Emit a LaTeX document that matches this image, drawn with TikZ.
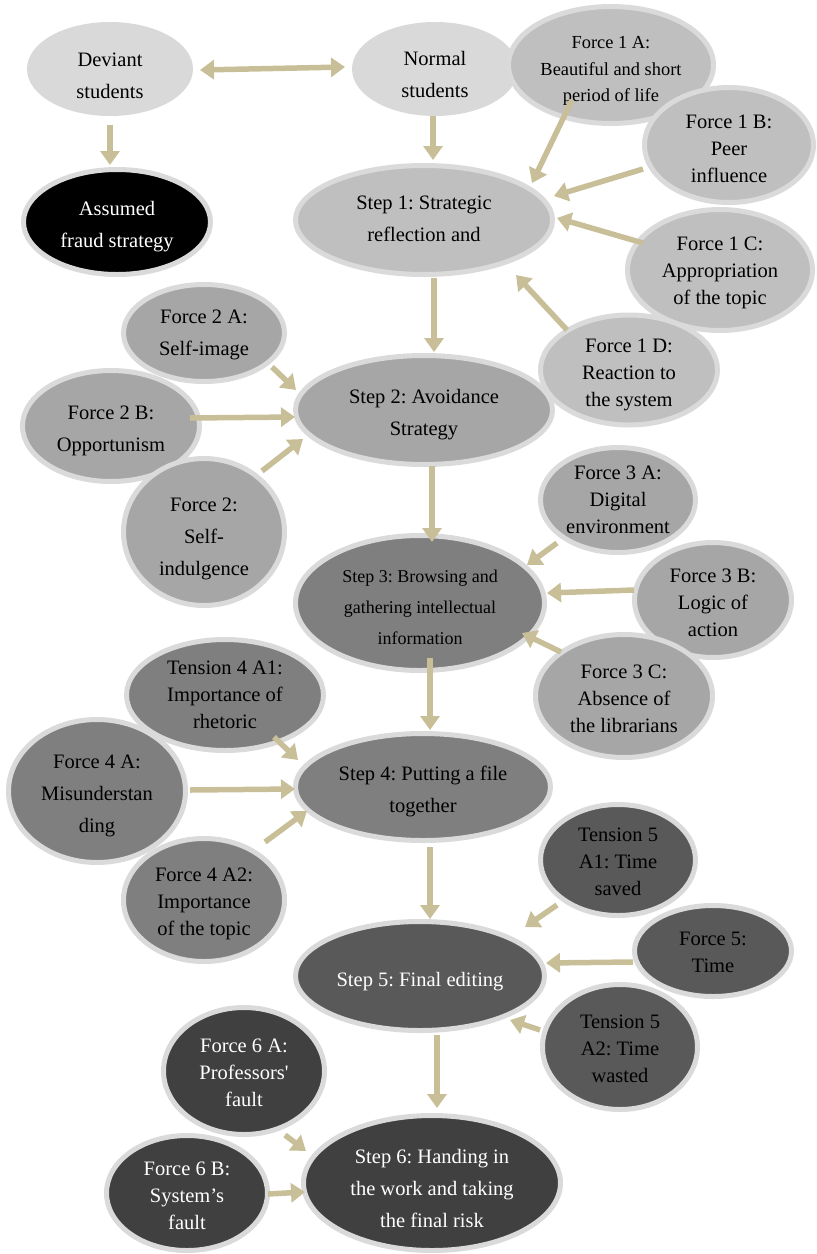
\documentclass[tikz,border=0pt]{standalone}
\usepackage{fontspec}
\setmainfont{Liberation Serif}[Ligatures=TeXOff]
\frenchspacing
\usetikzlibrary{arrows.meta,calc,shapes.geometric}
\definecolor{arrc}{HTML}{C8BF98}
\definecolor{ringc}{HTML}{DADADA}
\definecolor{cA}{HTML}{D9D9D9}
\definecolor{cB}{HTML}{BFBFBF}
\definecolor{cC}{HTML}{A6A6A6}
\definecolor{cD}{HTML}{7F7F7F}
\definecolor{cE}{HTML}{595959}
\definecolor{cF}{HTML}{404040}
\begin{document}
\begin{tikzpicture}[x=1pt,y=-1pt,
  el/.style={ellipse, draw=ringc, line width=5pt, inner sep=0pt},
  lab/.style={align=center, inner sep=0pt, font=\fontsize{20.5}{32}\selectfont},
  tight/.style={font=\fontsize{20.5}{27}\selectfont},
  wt/.style={text=white},
  sz/.style 2 args={minimum width=#1, minimum height=#2},
  T/.style n args={3}{label={[lab,#1,yshift=-#2pt]center:{#3}}},
  arr/.style={draw=arrc, line width=5.5pt, -{Triangle[length=14pt,width=19pt]}},
  darr/.style={draw=arrc, line width=5.5pt, {Triangle[length=14pt,width=19pt]}-{Triangle[length=14pt,width=19pt]}},
]
\useasboundingbox (0,0) rectangle (817,1254);

% top
\node[el, fill=cA, draw=cA, sz={161}{89}, T={}{7}{Deviant\\students}] (dev) at (110,69) {};
\node[el, fill=black, sz={187}{105}, T={wt}{5}{Assumed\\fraud strategy}] (ass) at (117,222) {};
\node[el, fill=cA, draw=cA, sz={161}{89}, T={}{5}{Normal\\students}] (norm) at (435,69) {};

% step 1 group
\node[el, fill=cB, sz={257}{109}, T={}{-1}{Step 1: Strategic\\reflection and}] (s1) at (424,220) {};
\node[el, fill=cB, sz={205}{117}, T={font=\fontsize{18.4}{26.5}\selectfont}{6}{Force 1 A:\\Beautiful and short\\period of life}] (f1a) at (611,65) {};
\node[el, fill=cB, sz={169}{115}, T={tight}{4}{Force 1 B:\\Peer\\influence}] (f1b) at (729,145) {};
\node[el, fill=cB, sz={185}{121}, T={tight}{3}{Force 1 C:\\Appropriation\\of the topic}] (f1c) at (720,270) {};

% step 2 group
\node[el, fill=cC, sz={257}{109}, T={}{5}{Step 2: Avoidance\\Strategy}] (s2) at (424,410) {};
\node[el, fill=cB, sz={177}{110}, T={tight}{5}{Force 1 D:\\Reaction to\\the system}] (f1d) at (629,370) {};
\node[el, fill=cC, sz={161}{97}, T={}{2}{Force 2 A:\\Self-image}] (f2a) at (204,333) {};
\node[el, fill=cC, sz={177}{111}, T={}{5}{Force 2 B:\\Opportunism}] (f2b) at (111,426) {};
\node[el, fill=cC, sz={161}{147}, T={}{7}{Force 2:\\Self-\\indulgence}] (f2c) at (204,532) {};

% step 3 group
\node[el, fill=cD, sz={249}{135}, T={font=\fontsize{18}{31}\selectfont}{4}{Step 3: Browsing and\\gathering intellectual\\information}] (s3) at (420,603) {};
\node[el, fill=cC, sz={155}{105}, T={tight}{0}{Force 3 A:\\Digital\\environment}] (f3a) at (618,500) {};
\node[el, fill=cC, sz={157}{115}, T={tight}{3}{Force 3 B:\\Logic of\\action}] (f3b) at (713,600) {};
\node[el, fill=cC, sz={177}{123}, T={tight}{3}{Force 3 C:\\Absence of\\the librarians}] (f3c) at (624,696) {};

% step 4 group
\node[el, fill=cD, sz={255}{107}, T={}{4}{Step 4: Putting a file\\together}] (s4) at (423,787) {};
\node[el, fill=cD, sz={197}{111}, T={tight}{0}{Tension 4 A1:\\Importance of\\rhetoric}] (t4a1) at (225,695) {};
\node[el, fill=cD, sz={177}{143}, T={}{5}{Force 4 A:\\Misunderstan\\ding}] (f4a) at (97,791) {};
\node[el, fill=cD, sz={161}{123}, T={tight}{4}{Force 4 A2:\\Importance\\of the topic}] (f4a2) at (204,900) {};

% step 5 group
\node[el, fill=cE, sz={249}{109}, T={wt}{6}{Step 5: Final editing}] (s5) at (420,976) {};
\node[el, fill=cE, sz={155}{111}, T={tight}{2}{Tension 5\\A1: Time\\saved}] (t5a1) at (618,860) {};
\node[el, fill=cE, sz={157}{91}, T={tight}{1}{Force 5:\\Time}] (f5) at (713,951) {};
\node[el, fill=cE, sz={155}{125}, T={tight}{2}{Tension 5\\A2: Time\\wasted}] (t5a2) at (620,1047) {};

% step 6 group
\node[el, fill=cF, sz={257}{135}, T={wt}{5}{Step 6: Handing in\\the work and taking\\the final risk}] (s6) at (432,1183) {};
\node[el, fill=cF, sz={161}{127}, T={wt,tight}{2}{Force 6 A:\\Professors'\\fault}] (f6a) at (244,1071) {};
\node[el, fill=cF, sz={161}{115}, T={wt,tight}{3}{Force 6 B:\\System’s\\fault}] (f6b) at (187,1193) {};

% connectors
\draw[darr] ($(dev)+(90,1)$) -- ($(norm)+(-90,-2)$);
\draw[arr] ($(dev)+(0,56)$) -- ($(ass)+(-7,-57)$);
\draw[arr] ($(norm)+(-2,47)$) -- ($(s1)+(9,-60)$);
\draw[arr] ($(f1a)+(-39,35)$) -- ($(s1)+(108,-37)$);
\draw[arr] ($(f1b)+(-86,24)$) -- ($(s1)+(130,-24)$);
\draw[arr] ($(f1c)+(-77,-27)$) -- ($(s1)+(133,-2)$);
\draw[arr] ($(f1d)+(-62,-40)$) -- ($(s1)+(92,55)$);
\draw[arr] ($(s1)+(10,58)$) -- ($(s2)+(10,-58)$);
\draw[arr] ($(f2a)+(68,34)$) -- ($(s2)+(-128,-20)$);
\draw[arr] ($(f2b)+(79,-8)$) -- ($(s2)+(-129,7)$);
\draw[arr] ($(f2c)+(58,-61)$) -- ($(s2)+(-121,29)$);
\draw[arr] ($(s2)+(8,56)$) -- ($(s3)+(12,-61)$);
\draw[arr] ($(f3a)+(-61,43)$) -- ($(s3)+(107,-38)$);
\draw[arr] ($(f3b)+(-79,-10)$) -- ($(s3)+(127,-10)$);
\draw[arr] ($(f3c)+(-63,-44)$) -- ($(s3)+(102,30)$);
\draw[arr] ($(s3)+(10,55)$) -- ($(s4)+(7,-57)$);
\draw[arr] ($(t4a1)+(49,42)$) -- ($(s4)+(-125,-27)$);
\draw[arr] ($(f4a)+(93,-1)$) -- ($(s4)+(-128,2)$);
\draw[arr] ($(f4a2)+(61,-58)$) -- ($(s4)+(-116,24)$);
\draw[arr] ($(s4)+(7,60)$) -- ($(s5)+(10,-57)$);
\draw[arr] ($(t5a1)+(-61,45)$) -- ($(s5)+(105,-49)$);
\draw[arr] ($(f5)+(-80,11)$) -- ($(s5)+(126,-13)$);
\draw[arr] ($(t5a2)+(-80,-17)$) -- ($(s5)+(90,44)$);
\draw[arr] ($(s5)+(17,59)$) -- ($(s6)+(5,-75)$);
\draw[arr] ($(f6a)+(41,64)$) -- ($(s6)+(-126,-32)$);
\draw[arr] ($(f6b)+(81,1)$) -- ($(s6)+(-127,9)$);
\end{tikzpicture}
\end{document}
